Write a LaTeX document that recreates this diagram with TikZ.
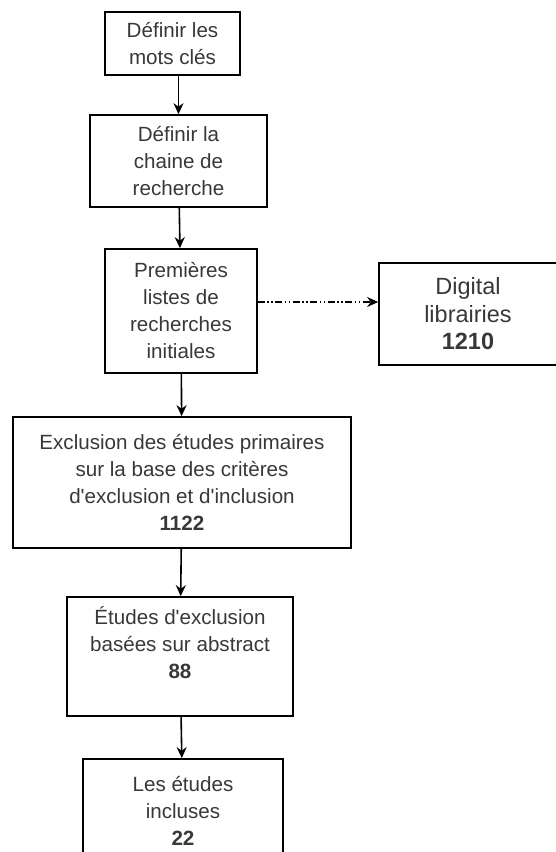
\documentclass[tikz,border=0pt]{standalone}
\usepackage{fontspec}
\setmainfont{Liberation Sans}
\usetikzlibrary{arrows.meta}

\begin{document}
\begin{tikzpicture}[x=1pt, y=1pt, font=\fontsize{20.6}{27}\selectfont,
    stage/.style={draw, line width=1.7pt, align=center, inner sep=0pt, text=black!78},
    flow/.style={-{Stealth[length=11pt,width=10pt]}, line width=1.6pt},
    feed/.style={-{Stealth[length=11pt,width=10pt]}, line width=1.4pt,
                 dash pattern=on 7pt off 2.5pt on 1.5pt off 2.5pt on 1.5pt off 2.5pt}]
    \useasboundingbox (0,0) rectangle (555,-852);
    % main column of steps
    \node[stage, minimum width=135pt, minimum height=63pt] (motscles) at (172.5,-43.5)
        {Définir les\\mots clés};
    \node[stage, minimum width=177pt, minimum height=92pt] (chaine) at (178.5,-161)
        {Définir la\\chaine de\\recherche};
    \node[stage, minimum width=152pt, minimum height=124pt] (premieres) at (181,-311)
        {Premières\\listes de\\recherches\\initiales};
    \node[stage, minimum width=338pt, minimum height=131pt] (criteres) at (182,-482.5)
        {Exclusion des études primaires\\sur la base des critères\\d\textquotesingle exclusion et d\textquotesingle inclusion\\\textbf{1122}};
    \node[stage, minimum width=226pt, minimum height=119pt] (abstract) at (180,-656.5)
        {Études d\textquotesingle exclusion\\basées sur abstract\\\textbf{88}\\\mbox{}};
    \node[stage, minimum width=200pt, minimum height=131pt] (incluses) at (183,-824.5)
        {Les études\\incluses\\\textbf{22}\\\mbox{}};
    % side box
    \node[stage, font=\fontsize{23.5}{27.5}\selectfont, minimum width=178pt, minimum height=102pt]
        (digital) at (468,-314) {Digital\\librairies\\\textbf{1210}};
    % connectors
    \draw[flow] (motscles.south -| chaine.north) -- (chaine.north);
    \draw[flow] (chaine) -- (premieres);
    \draw[flow] (premieres) -- (criteres);
    \draw[flow] (criteres) -- (abstract);
    \draw[flow] (abstract) -- (incluses);
    \draw[feed] ([yshift=9pt]premieres.east) -- ([yshift=9pt]premieres.east -| digital.west);
\end{tikzpicture}
\end{document}
